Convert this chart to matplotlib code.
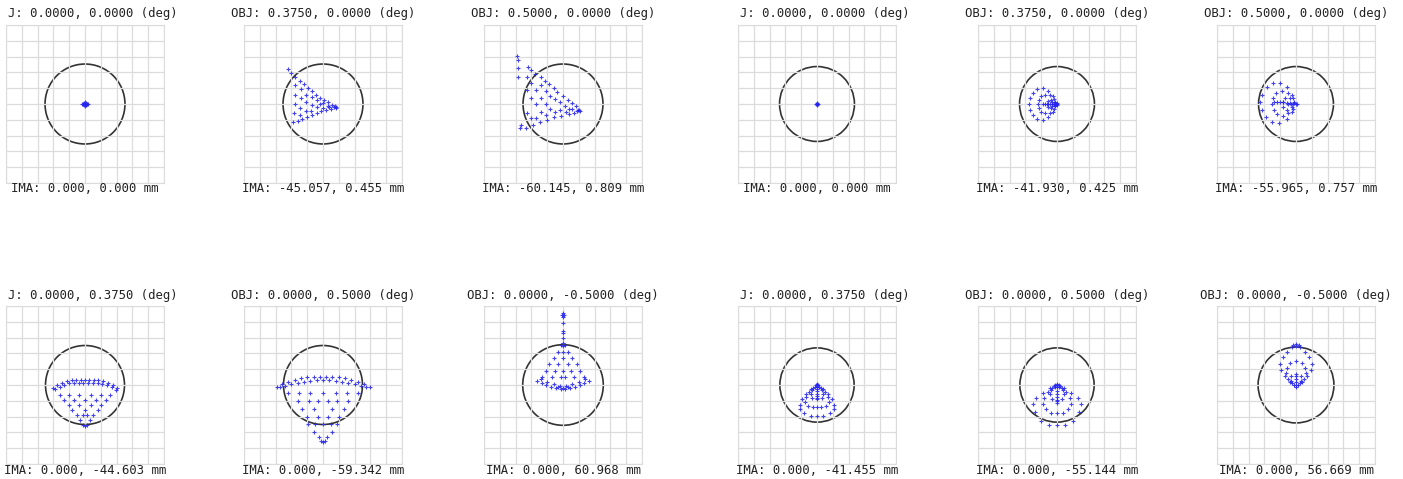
import matplotlib.pyplot as plt
from matplotlib.patches import Circle

W, H = 1403, 479

# spot positions in grid cells, circle centre at (0, 0)
spot_1 = [(0, 0), (0.15, 0), (-0.15, 0), (0, 0.1), (0, -0.1), (0.08, 0.06), (-0.08, 0.06),
          (0.08, -0.06), (-0.08, -0.06), (0.2, 0), (-0.2, 0)]
spot_2 = [(-2.2, 2.2), (-2.05, 1.95), (-1.75, 1.7), (-1.45, 1.45), (-1.2, 1.25), (-0.95, 1.0),
          (-0.7, 0.8), (-0.45, 0.6), (-0.2, 0.4), (0.05, 0.25), (0.3, 0.1), (0.55, -0.05),
          (0.75, -0.15), (0.85, -0.2), (0.8, -0.25), (0.7, -0.2),
          (-1.9, -1.15), (-1.6, -1.05), (-1.3, -0.95), (-1.0, -0.85), (-0.7, -0.7), (-0.4, -0.6),
          (-0.1, -0.45), (0.2, -0.35), (0.5, -0.3),
          (-1.75, 1.2), (-1.75, 0.6), (-1.8, 0.0), (-1.85, -0.6), (-1.4, 0.95), (-1.4, 0.35),
          (-1.45, -0.25), (-1.45, -0.7), (-1.05, 0.6), (-1.1, 0.1), (-1.1, -0.45), (-0.7, 0.45),
          (-0.7, -0.05), (-0.75, -0.45), (-0.35, 0.25), (-0.35, -0.2), (0.0, 0.05), (0.0, -0.25),
          (0.3, -0.1), (-0.2, 0.0), (0.4, -0.2)]
spot_3 = [(-2.9, 3.05), (-2.85, 2.8), (-2.2, 2.35), (-2.0, 2.15), (-1.75, 1.9), (-1.4, 1.7),
          (-1.15, 1.45), (-0.9, 1.25), (-0.6, 1.0), (-0.35, 0.75), (0.0, 0.5), (0.3, 0.25),
          (0.55, 0.05), (0.8, -0.15), (1.0, -0.35), (1.05, -0.42), (0.95, -0.4), (0.9, -0.45),
          (-2.7, -1.55), (-2.65, -1.3), (-2.35, -1.5), (-1.9, -1.3), (-1.45, -1.15), (-1.0, -1.0),
          (-0.55, -0.85), (-0.1, -0.75), (0.35, -0.65), (0.7, -0.55),
          (-2.85, 2.3), (-2.85, 1.7), (-2.3, 1.7), (-2.3, 0.9), (-2.0, 1.3), (-2.0, 0.4),
          (-1.7, 0.9), (-1.7, 0.0), (-1.7, -0.9), (-1.4, 1.2), (-1.4, 0.4), (-1.4, -0.5),
          (-1.1, 0.8), (-1.1, 0.0), (-1.1, -0.7), (-0.8, 0.5), (-0.8, -0.3), (-0.5, 0.3),
          (-0.5, -0.5), (-0.2, 0.1), (-0.2, -0.4), (0.1, -0.1), (0.2, -0.5), (0.4, -0.3),
          (0.6, -0.3), (-2.3, -0.6), (-2.0, -0.9)]
spot_4 = [(0, 0), (0.08, 0), (-0.08, 0), (0, 0.07), (0, -0.07)]
spot_5 = [(0, 0), (-0.25, 0.5), (-0.55, 0.85), (-0.9, 1.0), (-1.25, 0.95), (-1.55, 0.7),
          (-1.72, 0.35), (-1.75, 0), (-1.72, -0.35), (-1.55, -0.7), (-1.25, -0.95), (-0.9, -1.0),
          (-0.55, -0.85), (-0.25, -0.5),
          (-0.2, 0.3), (-0.45, 0.55), (-0.75, 0.6), (-1.0, 0.5), (-1.15, 0.25), (-1.2, 0),
          (-1.15, -0.25), (-1.0, -0.5), (-0.75, -0.6), (-0.45, -0.55), (-0.2, -0.3),
          (-0.15, 0.15), (-0.35, 0.25), (-0.55, 0.2), (-0.65, 0), (-0.55, -0.2), (-0.35, -0.25),
          (-0.15, -0.15),
          (-0.9, 0), (-0.75, 0), (-0.6, 0), (-0.45, 0), (-0.3, 0), (-0.2, 0), (-0.1, 0),
          (0, 0.05), (0, -0.05), (-0.05, 0), (-0.1, 0.08), (-0.1, -0.08), (-0.3, 0.1), (-0.3, -0.1)]
spot_6 = [(0.05, 0), (-0.25, 0.55), (-0.6, 1.05), (-1.0, 1.35), (-1.45, 1.35), (-1.85, 1.05),
          (-2.15, 0.6), (-2.25, 0.1), (-2.15, -0.4), (-1.9, -0.8), (-1.5, -1.15), (-1.05, -1.2),
          (-0.6, -0.95), (-0.25, -0.5),
          (-0.2, 0.35), (-0.5, 0.7), (-0.9, 0.85), (-1.25, 0.7), (-1.45, 0.35), (-1.5, 0),
          (-1.4, -0.35), (-1.2, -0.65), (-0.85, -0.75), (-0.5, -0.6), (-0.2, -0.3),
          (-0.15, 0.15), (-0.4, 0.35), (-0.7, 0.35), (-0.85, 0.1), (-0.8, -0.2), (-0.55, -0.35),
          (-0.25, -0.2),
          (-1.4, 0.15), (-1.2, 0.15), (-1.0, 0.1), (-0.8, 0.1), (-0.6, 0.05), (-0.4, 0.05),
          (-0.2, 0), (0, 0), (-0.1, 0.05), (-0.3, 0.0), (-0.5, 0.0)]
spot_7 = [(-2.05, -0.2), (-1.75, 0.0), (-1.45, 0.15), (-1.15, 0.25), (-0.85, 0.3), (-0.55, 0.32),
          (-0.25, 0.33), (0, 0.33), (0.25, 0.33), (0.55, 0.32), (0.85, 0.3), (1.15, 0.25),
          (1.45, 0.15), (1.75, 0.0), (2.05, -0.2),
          (-1.9, -0.25), (-1.6, -0.1), (-1.3, 0.0), (-1.0, 0.1), (-0.7, 0.15), (-0.4, 0.15),
          (-0.1, 0.15), (0.2, 0.15), (0.5, 0.15), (0.8, 0.12), (1.1, 0.08), (1.4, 0.0),
          (1.7, -0.12), (1.95, -0.3),
          (-1.6, -0.63), (-1.0, -0.63), (-0.4, -0.63), (0.4, -0.63), (1.0, -0.63), (1.6, -0.63),
          (-1.3, -0.95), (-0.7, -0.95), (0, -0.95), (0.7, -0.95), (1.3, -0.95),
          (-1.0, -1.26), (-0.4, -1.26), (0.4, -1.26), (1.0, -1.26),
          (-0.8, -1.58), (0, -1.58), (0.8, -1.58),
          (-0.5, -1.9), (-0.1, -1.9), (0.1, -1.9), (0.5, -1.9),
          (-0.3, -2.2), (0.3, -2.2), (0, -2.6), (-0.1, -2.55), (0.1, -2.55)]
spot_8 = [(-2.9, -0.1), (-2.6, 0.05), (-2.2, 0.2), (-1.8, 0.32), (-1.4, 0.42), (-1.0, 0.48),
          (-0.6, 0.52), (-0.2, 0.53), (0.2, 0.53), (0.6, 0.52), (1.0, 0.48), (1.4, 0.42),
          (1.8, 0.32), (2.2, 0.2), (2.6, 0.05), (2.95, -0.1),
          (-2.7, -0.15), (-2.4, -0.05), (-2.0, 0.05), (-1.6, 0.15), (-1.2, 0.22), (-0.8, 0.28),
          (-0.4, 0.3), (0, 0.3), (0.4, 0.3), (0.8, 0.28), (1.2, 0.22), (1.6, 0.15), (2.0, 0.05),
          (2.4, -0.05), (2.7, -0.15),
          (-2.2, -0.5), (-1.5, -0.5), (-0.8, -0.5), (0, -0.5), (0.8, -0.5), (1.5, -0.5), (2.2, -0.5),
          (-1.6, -1.0), (-0.9, -1.0), (-0.3, -1.0), (0.3, -1.0), (0.9, -1.0), (1.6, -1.0),
          (-1.3, -1.5), (-0.6, -1.5), (0.6, -1.5), (1.3, -1.5),
          (-1.0, -2.0), (-0.3, -2.0), (0.3, -2.0), (1.0, -2.0),
          (-0.95, -2.45), (-0.5, -2.45), (0, -2.45), (0.5, -2.45), (0.9, -2.45),
          (-0.55, -2.95), (0.55, -2.95), (-0.25, -3.3), (0.25, -3.3),
          (0, -3.6), (-0.12, -3.55), (0.12, -3.55)]
spot_9 = [(0, 4.57), (-0.08, 4.45), (0.08, 4.45), (0, 4.3), (0, 3.95), (0, 3.4), (0, 3.3),
          (0, 3.0), (0, 2.65), (-0.15, 2.55), (0.15, 2.55), (0, 2.5),
          (-0.3, 2.1), (0, 2.1), (0.3, 2.1), (-0.6, 1.7), (0, 1.7), (0.6, 1.7),
          (-0.9, 1.3), (-0.3, 1.3), (0.3, 1.3), (0.9, 1.3),
          (-1.1, 0.9), (-0.5, 0.9), (0, 0.9), (0.5, 0.9), (1.1, 0.9),
          (-1.3, 0.5), (-0.7, 0.5), (-0.15, 0.5), (0.15, 0.5), (0.7, 0.5), (1.3, 0.5),
          (-1.65, 0.25), (-1.35, 0.15), (-1.05, 0.0), (-0.75, -0.1), (-0.45, -0.2), (-0.15, -0.25),
          (0.15, -0.25), (0.45, -0.2), (0.75, -0.1), (1.05, 0.0), (1.35, 0.15), (1.65, 0.25),
          (-1.4, 0.35), (-1.0, 0.2), (-0.6, 0.05), (-0.2, -0.05), (0.2, -0.05), (0.6, 0.05),
          (1.0, 0.2), (1.4, 0.35), (-0.3, -0.15), (0.3, -0.15), (0, -0.2)]
spot_10 = [(0, 0), (-0.35, -0.25), (-0.7, -0.55), (-0.95, -0.9), (-1.1, -1.25), (-1.05, -1.55),
           (-0.8, -1.8), (-0.4, -1.95), (0, -1.97), (0.4, -1.95), (0.8, -1.8), (1.05, -1.55),
           (1.1, -1.25), (0.95, -0.9), (0.7, -0.55), (0.35, -0.25),
           (-0.25, -0.2), (-0.5, -0.45), (-0.7, -0.75), (-0.75, -1.05), (-0.55, -1.3),
           (-0.25, -1.4), (0, -1.42), (0.25, -1.4), (0.55, -1.3), (0.75, -1.05), (0.7, -0.75),
           (0.5, -0.45), (0.25, -0.2),
           (-0.15, -0.1), (-0.3, -0.3), (-0.4, -0.55), (-0.3, -0.8), (0, -0.9), (0.3, -0.8),
           (0.4, -0.55), (0.3, -0.3), (0.15, -0.1),
           (0, -0.1), (0, -0.25), (0, -0.4), (0, -0.55), (0, -0.7), (0, -0.85),
           (-0.08, 0.02), (0.08, 0.02), (0, 0.05)]
spot_11 = [(0, 0), (-0.45, -0.2), (-0.9, -0.5), (-1.3, -0.85), (-1.5, -1.2), (-1.4, -1.7),
           (-1.0, -2.3), (-0.5, -2.5), (0, -2.52), (0.5, -2.5), (1.0, -2.3), (1.4, -1.7),
           (1.5, -1.2), (1.3, -0.85), (0.9, -0.5), (0.45, -0.2),
           (-0.3, -0.2), (-0.6, -0.45), (-0.85, -0.8), (-0.9, -1.2), (-0.7, -1.55), (-0.35, -1.75),
           (0, -1.8), (0.35, -1.75), (0.7, -1.55), (0.9, -1.2), (0.85, -0.8), (0.6, -0.45),
           (0.3, -0.2),
           (-0.15, -0.1), (-0.35, -0.3), (-0.45, -0.6), (-0.3, -0.9), (0, -1.0), (0.3, -0.9),
           (0.45, -0.6), (0.35, -0.3), (0.15, -0.1),
           (0, -0.15), (0, -0.35), (0, -0.55), (0, -0.75), (0, -0.95), (0, -1.15),
           (-0.1, 0), (0.1, 0), (0, 0.05), (-0.2, -0.05), (0.2, -0.05)]
spot_12 = [(0, -0.15), (-0.35, 0.2), (-0.7, 0.55), (-0.95, 0.95), (-1.0, 1.35), (-0.85, 1.75),
           (-0.55, 2.1), (-0.25, 2.4), (0, 2.45), (0.25, 2.4), (0.55, 2.1), (0.85, 1.75),
           (1.0, 1.35), (0.95, 0.95), (0.7, 0.55), (0.35, 0.2),
           (-0.25, 0.1), (-0.5, 0.4), (-0.65, 0.75), (-0.6, 1.1), (-0.35, 1.4), (0, 1.5),
           (0.35, 1.4), (0.6, 1.1), (0.65, 0.75), (0.5, 0.4), (0.25, 0.1),
           (-0.15, 0), (-0.3, 0.25), (-0.3, 0.55), (0, 0.7), (0.3, 0.55), (0.3, 0.25), (0.15, 0),
           (0, 0), (0, 0.2), (0, 0.4), (0, 0.6),
           (-0.2, 2.55), (0, 2.6), (0.2, 2.55)]

spots = [spot_1, spot_2, spot_3, spot_4, spot_5, spot_6,
         spot_7, spot_8, spot_9, spot_10, spot_11, spot_12]

airy_radius = [2.53, 2.53, 2.53, 2.37, 2.37, 2.37,
               2.5, 2.5, 2.55, 2.35, 2.35, 2.4]

# first column of each half is cropped in the source image
obj_labels = ["J: 0.0000, 0.0000 (deg)", "OBJ: 0.3750, 0.0000 (deg)", "OBJ: 0.5000, 0.0000 (deg)",
              "J: 0.0000, 0.0000 (deg)", "OBJ: 0.3750, 0.0000 (deg)", "OBJ: 0.5000, 0.0000 (deg)",
              "J: 0.0000, 0.3750 (deg)", "OBJ: 0.0000, 0.5000 (deg)", "OBJ: 0.0000, -0.5000 (deg)",
              "J: 0.0000, 0.3750 (deg)", "OBJ: 0.0000, 0.5000 (deg)", "OBJ: 0.0000, -0.5000 (deg)"]
ima_labels = ["IMA: 0.000, 0.000 mm", "IMA: -45.057, 0.455 mm", "IMA: -60.145, 0.809 mm",
              "IMA: 0.000, 0.000 mm", "IMA: -41.930, 0.425 mm", "IMA: -55.965, 0.757 mm",
              "IMA: 0.000, -44.603 mm", "IMA: 0.000, -59.342 mm", "IMA: 0.000, 60.968 mm",
              "IMA: 0.000, -41.455 mm", "IMA: 0.000, -55.144 mm", "IMA: 0.000, 56.669 mm"]

# layout in pixels
col_cx = [85, 323, 563, 817, 1057, 1296]
row_top = [25, 306]
box = 158
title_y = [14, 295]
label_y = [189, 471]

fig = plt.figure(figsize=(W / 100, H / 100), dpi=100)
mono = "DejaVu Sans Mono"

for i, pts in enumerate(spots):
    r, c = divmod(i, 6)
    left = col_cx[c] - box / 2
    bottom = H - row_top[r] - box
    ax = fig.add_axes([left / W, bottom / H, box / W, box / H])
    ax.set_xlim(-5, 5)
    ax.set_ylim(-5, 5)
    ax.set_xticks(range(-5, 6))
    ax.set_yticks(range(-5, 6))
    ax.tick_params(length=0, labelbottom=False, labelleft=False)
    ax.grid(True, color="#dcdcdc", lw=0.9)
    for s in ax.spines.values():
        s.set_color("#dcdcdc")
    ax.add_patch(Circle((0, 0), airy_radius[i], fill=False, ec="#333333", lw=1.2))
    xs = [p[0] for p in pts]
    ys = [p[1] for p in pts]
    ax.plot(xs, ys, ls="none", marker="+", ms=3.2, mew=0.8, color="#2424ee", alpha=0.85)

    title = obj_labels[i]
    tx = col_cx[c] + (7.4 if title.startswith("J:") else 0)
    fig.text(tx / W, 1 - title_y[r] / H, title, ha="center", va="center",
             family=mono, fontsize=8.8, color="#222222")
    fig.text(col_cx[c] / W, 1 - label_y[r] / H, ima_labels[i], ha="center", va="center",
             family=mono, fontsize=8.8, color="#222222")

fig.savefig("out.png", dpi=100)
